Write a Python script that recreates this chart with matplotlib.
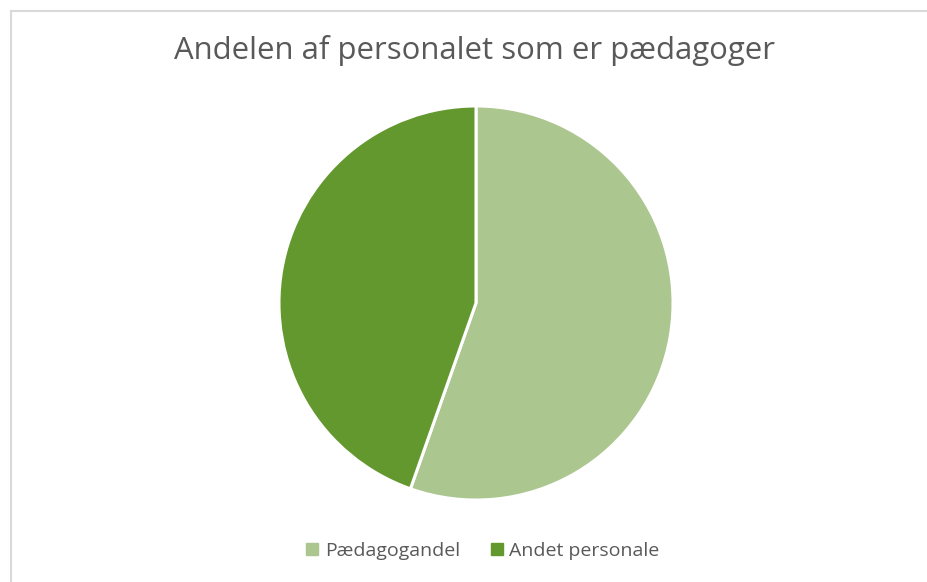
import matplotlib.pyplot as plt
from matplotlib.lines import Line2D

plt.rcParams["font.family"] = ["Open Sans", "DejaVu Sans"]

# data
labels = ["Pædagogandel", "Andet personale"]
shares = [55.4, 44.6]
colors = ["#ABC68F", "#63982F"]
title = "Andelen af personalet som er pædagoger"

W, H = 928, 582
fig = plt.figure(figsize=(W / 100, H / 100), dpi=100)

# pie placement (pixels in the reference)
cx, cy, r = 476, 303, 199
ax = fig.add_axes([(cx - r) / W, (H - cy - r) / H, 2 * r / W, 2 * r / H])
wedges, _ = ax.pie(shares, colors=colors, startangle=90, counterclock=False,
                   radius=1.0, wedgeprops=dict(edgecolor="white", linewidth=2.2))
ax.set_xlim(-1.01, 1.01)
ax.set_ylim(-1.01, 1.01)
ax.set_aspect("equal")
ax.axis("off")

fig.text(475 / W, 1 - 50 / H, title, ha="center", va="center",
         fontsize=22.4, color="#595959")

handles = [Line2D([], [], marker="s", linestyle="none", markersize=8,
                  markerfacecolor=c, markeredgecolor=c) for c in colors]
fig.legend(handles, labels, loc="center", bbox_to_anchor=(482 / W, 1 - 551 / H),
           ncol=2, frameon=False, fontsize=14, labelcolor="#595959",
           handletextpad=0.25, columnspacing=1.5, handlelength=0.8)

# chart border (only left and top visible in the crop)
border = "#D9D9D9"
fig.add_artist(Line2D([11.5 / W, 11.5 / W], [0, 1 - 10.5 / H], color=border,
                      lw=1.5, transform=fig.transFigure))
fig.add_artist(Line2D([11.5 / W, 1], [1 - 10.5 / H, 1 - 10.5 / H], color=border,
                      lw=1.5, transform=fig.transFigure))

fig.savefig("out.png", dpi=100, facecolor="white")
